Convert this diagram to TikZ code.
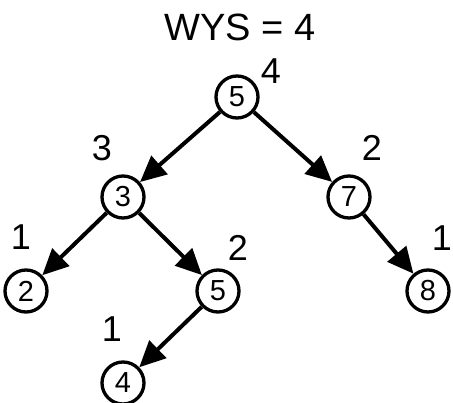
\documentclass[tikz,border=0pt]{standalone}
\usepackage{fontspec}
\setmainfont{Liberation Sans}
\usetikzlibrary{arrows.meta}
\begin{document}
\begin{tikzpicture}[x=1pt,y=-1pt,
  vertex/.style={circle,draw,line width=3.3pt,minimum size=42pt,inner sep=0pt,
    font=\fontsize{29}{29}\selectfont},
  height/.style={font=\fontsize{36}{36}\selectfont,inner sep=0pt},
  edge/.style={line width=4pt,-{Triangle[length=26pt,width=24pt]}}]
\useasboundingbox (0,0) rectangle (453,403);
% title
\node[font=\fontsize{38}{38}\selectfont,inner sep=0pt] (title) at (240,27) {WYS = 4};
% tree nodes
\node[vertex] (n5) at (237,97) {5};
\node[vertex] (n3) at (123,197) {3};
\node[vertex] (n7) at (349,197) {7};
\node[vertex] (n2) at (26,291) {2};
\node[vertex] (n5b) at (218,291) {5};
\node[vertex] (n8) at (428,291) {8};
\node[vertex] (n4) at (123,383) {4};
% subtree heights
\node[height] (h5) at (271,71) {4};
\node[height] (h3) at (102,148) {3};
\node[height] (h7) at (372,148) {2};
\node[height] (h2) at (21,237) {1};
\node[height] (h5b) at (238,248) {2};
\node[height] (h4) at (112,329) {1};
\node[height] (h8) at (442,238) {1};
% edges
\draw[edge] (n5) -- (n3);
\draw[edge] (n5) -- (n7);
\draw[edge] (n3) -- (n2);
\draw[edge] (n3) -- (n5b);
\draw[edge] (n5b) -- (n4);
\draw[edge] (n7) -- (n8);
\end{tikzpicture}
\end{document}
